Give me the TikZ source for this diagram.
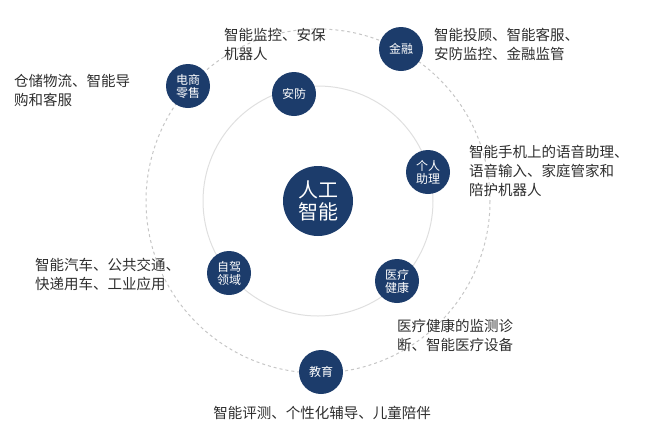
\documentclass[tikz,border=0pt]{standalone}
\usepackage{fontspec}
\setmainfont{Noto Sans CJK SC}
\definecolor{navy}{HTML}{1C3C6B}
\definecolor{txt}{HTML}{2E2E2E}
\begin{document}
\begin{tikzpicture}[x=1pt,y=-1pt,
  hub/.style={circle,fill=navy,text=white,minimum size=44pt,inner sep=0pt,font=\fontsize{12}{13}\selectfont,align=center},
  core/.style={circle,fill=navy,text=white,minimum size=70pt,inner sep=0pt,font=\fontsize{20}{22}\selectfont,align=center},
  lab/.style={text=txt,font=\fontsize{14.5}{19}\selectfont,align=left,inner sep=0pt}]
\useasboundingbox (0,0) rectangle (648,440);
\coordinate (c) at (318,201);
\draw[gray!25,line width=1pt] (c) circle[radius=115];
\draw[gray!45,line width=1pt,dashed] (c) circle[radius=172];
\node[core] (ai) at (c) {人工\\智能};
\node[hub] (ds) at (188,86) {电商\\零售};
\node[hub] (af) at (294,94) {安防};
\node[hub] (jr) at (401,49) {金融};
\node[hub] (gr) at (428,172) {个人\\助理};
\node[hub] (zj) at (229,273) {自驾\\领域};
\node[hub] (yl) at (397,281) {医疗\\健康};
\node[hub] (jy) at (321,372) {教育};
\node[lab,anchor=west] (t1) at (224,44) {智能监控、安保\\机器人};
\node[lab,anchor=west] (t2) at (434,44) {智能投顾、智能客服、\\安防监控、金融监管};
\node[lab,anchor=west] (t3) at (14,90) {仓储物流、智能导\\购和客服};
\node[lab,anchor=west] (t4) at (469,171) {智能手机上的语音助理、\\语音输入、家庭管家和\\陪护机器人};
\node[lab,anchor=west] (t5) at (35,274) {智能汽车、公共交通、\\快递用车、工业应用};
\node[lab,anchor=west] (t6) at (397,335) {医疗健康的监测诊\\断、智能医疗设备};
\node[lab] (t7) at (322,413) {智能评测、个性化辅导、儿童陪伴};
\end{tikzpicture}
\end{document}
